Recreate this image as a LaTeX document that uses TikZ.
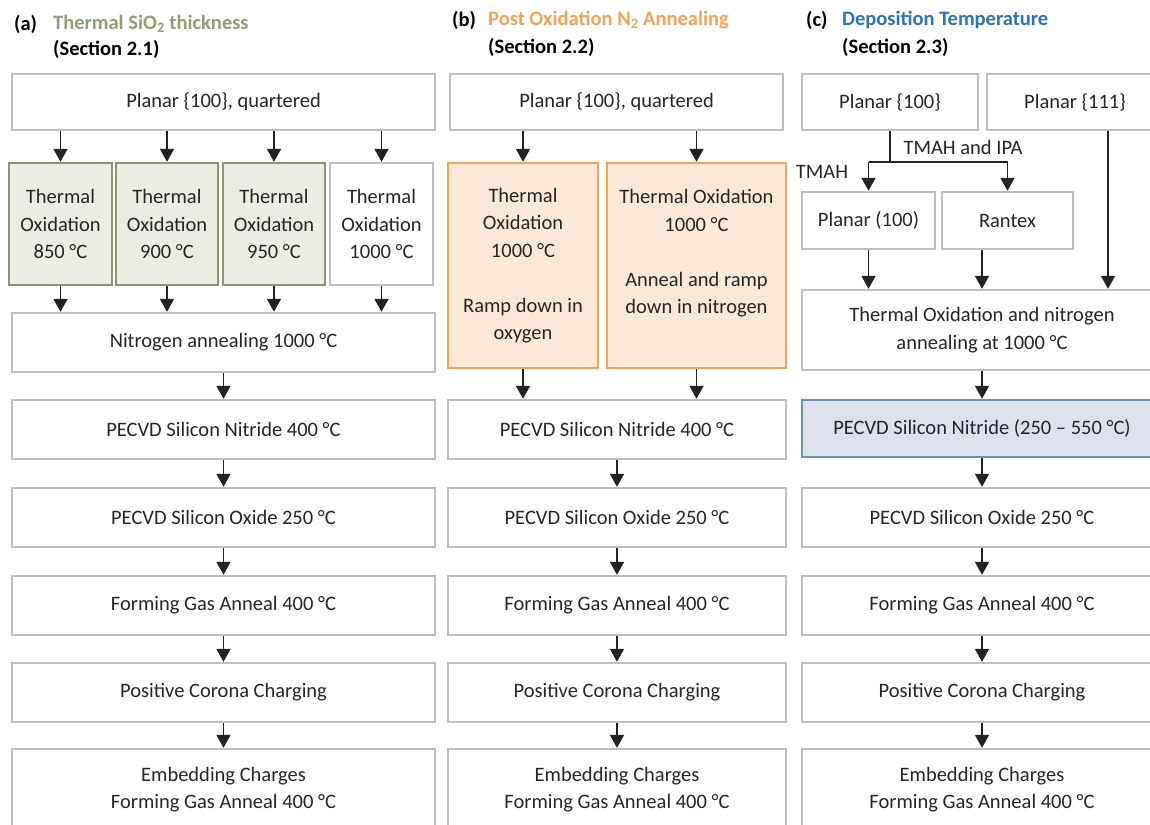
\documentclass[tikz,border=0pt]{standalone}
\usepackage{fontspec}
\setmainfont{Carlito}
\usetikzlibrary{arrows.meta}
\definecolor{boxgray}{HTML}{BFBFBF}
\definecolor{gfill}{HTML}{EBECE3}
\definecolor{gdraw}{HTML}{8A9670}
\definecolor{gtitle}{HTML}{8F9E78}
\definecolor{ofill}{HTML}{FCE8D6}
\definecolor{odraw}{HTML}{F4A35A}
\definecolor{otitle}{HTML}{F4A35A}
\definecolor{btitle}{HTML}{2E74B5}
\definecolor{bfill}{HTML}{DCE1EC}
\definecolor{bdraw}{HTML}{6F8DB5}
\definecolor{arrcol}{HTML}{222222}
\tikzset{
  box/.style={draw=boxgray, line width=2.4pt, fill=white, align=center, inner sep=0pt,
    text=black!85, font=\fontsize{20.5}{27.5}\selectfont},
  gbox/.style={box, draw=gdraw, fill=gfill},
  obox/.style={box, draw=odraw, fill=ofill},
  bbox/.style={box, draw=bdraw, fill=bfill},
  arr/.style={draw=arrcol, line width=1.8pt, -{Triangle[width=14pt,length=13pt]}},
  ln/.style={draw=arrcol, line width=1.8pt},
  hdr/.style={font=\fontsize{20.5}{24}\selectfont\bfseries, anchor=west, inner sep=0pt},
  lbl/.style={font=\fontsize{20.5}{24}\selectfont, text=black!85, inner sep=0pt}
}
\begin{document}
\begin{tikzpicture}[x=1pt,y=-1pt]
\useasboundingbox (0,0) rectangle (1150,824);
\clip (0,0) rectangle (1150,824);
% headers
\node[hdr] (ha) at (14,24) {(a)};
\node[hdr, text=gtitle] (hat) at (53,24) {Thermal SiO\textsubscript{2} thickness};
\node[hdr] (has) at (53,49) {(Section 2.1)};
\node[hdr] (hb) at (452,20) {(b)};
\node[hdr, text=otitle] (hbt) at (488,20) {Post Oxidation N\textsubscript{2} Annealing};
\node[hdr] (hbs) at (488,47) {(Section 2.2)};
\node[hdr] (hc) at (806,20) {(c)};
\node[hdr, text=btitle] (hct) at (842,20) {Deposition Temperature};
\node[hdr] (hcs) at (842,47) {(Section 2.3)};
% column a
\node[box, minimum width=423, minimum height=56] (pa) at (223.5,102) {Planar \{100\}, quartered};
\node[gbox, minimum width=103, minimum height=122] (ta1) at (60.5,224) {Thermal\\Oxidation\\850 °C};
\node[gbox, minimum width=102, minimum height=122] (ta2) at (167,224) {Thermal\\Oxidation\\900 °C};
\node[gbox, minimum width=102, minimum height=122] (ta3) at (274,224) {Thermal\\Oxidation\\950 °C};
\node[box, minimum width=103, minimum height=122] (ta4) at (381.5,224) {Thermal\\Oxidation\\1000 °C};
\node[box, minimum width=423, minimum height=59] (na) at (223.5,342.5) {Nitrogen annealing 1000 °C};
\node[box, minimum width=423, minimum height=59] (sa) at (223.5,429.5) {PECVD Silicon Nitride 400 °C};
\node[box, minimum width=423, minimum height=59] (oa) at (223.5,517.5) {PECVD Silicon Oxide 250 °C};
\node[box, minimum width=423, minimum height=59] (fa) at (223.5,605.5) {Forming Gas Anneal 400 °C};
\node[box, minimum width=423, minimum height=59] (ca) at (223.5,692.5) {Positive Corona Charging};
\node[box, minimum width=423, minimum height=81] (ea) at (223.5,789.5) {Embedding Charges\\Forming Gas Anneal 400 °C};
\foreach \t in {ta1,ta2,ta3,ta4}{
  \draw[arr] (pa.south -| \t) -- (\t.north);
  \draw[arr] (\t.south) -- (na.north -| \t);
}
\draw[arr] (na) -- (sa);
\draw[arr] (sa) -- (oa);
\draw[arr] (oa) -- (fa);
\draw[arr] (fa) -- (ca);
\draw[arr] (ca) -- (ea);
% column b
\node[box, minimum width=333, minimum height=56] (pb) at (616.5,102) {Planar \{100\}, quartered};
\node[obox, minimum width=150, minimum height=205] (tb1) at (523,265.5) {Thermal\\Oxidation\\1000 °C\\~\\Ramp down in\\oxygen};
\node[obox, minimum width=179, minimum height=205] (tb2) at (696.5,265.5) {Thermal Oxidation\\1000 °C\\~\\Anneal and ramp\\down in nitrogen\\~};
\node[box, minimum width=338, minimum height=59] (sb) at (617,429.5) {PECVD Silicon Nitride 400 °C};
\node[box, minimum width=338, minimum height=59] (ob) at (617,517.5) {PECVD Silicon Oxide 250 °C};
\node[box, minimum width=338, minimum height=59] (fb) at (617,605.5) {Forming Gas Anneal 400 °C};
\node[box, minimum width=338, minimum height=59] (cb) at (617,692.5) {Positive Corona Charging};
\node[box, minimum width=338, minimum height=81] (eb) at (617,789.5) {Embedding Charges\\Forming Gas Anneal 400 °C};
\foreach \t in {tb1,tb2}{
  \draw[arr] (pb.south -| \t) -- (\t.north);
  \draw[arr] (\t.south) -- (sb.north -| \t);
}
\draw[arr] (sb) -- (ob);
\draw[arr] (ob) -- (fb);
\draw[arr] (fb) -- (cb);
\draw[arr] (cb) -- (eb);
% column c
\node[box, minimum width=176, minimum height=56] (pc1) at (890,102) {Planar \{100\}};
\node[box, minimum width=176, minimum height=56] (pc2) at (1075,102) {Planar \{111\}};
\node[box, minimum width=133, minimum height=57] (pc3) at (868.5,220.5) {Planar (100)};
\node[box, minimum width=131, minimum height=57] (rc) at (1007.5,220.5) {Rantex};
\node[box, minimum width=360, minimum height=80] (tc) at (982,330) {Thermal Oxidation and nitrogen\\annealing at 1000 °C};
\node[bbox, minimum width=360, minimum height=57] (sc) at (982,428.5) {PECVD Silicon Nitride (250 – 550 °C)};
\node[box, minimum width=360, minimum height=59] (oc) at (982,517.5) {PECVD Silicon Oxide 250 °C};
\node[box, minimum width=360, minimum height=59] (fc) at (982,605.5) {Forming Gas Anneal 400 °C};
\node[box, minimum width=360, minimum height=59] (cc) at (982,692.5) {Positive Corona Charging};
\node[box, minimum width=360, minimum height=81] (ec) at (982,789.5) {Embedding Charges\\Forming Gas Anneal 400 °C};
\coordinate (split) at (890,162);
\coordinate (spl) at (868.5,162);
\coordinate (spr) at (1007.5,162);
\draw[ln] (pc1.south) -- (split);
\draw[ln] (spl) -- (spr);
\draw[arr] (spl) -- (pc3.north);
\draw[arr] (spr) -- (rc.north);
\node[lbl] (l1) at (963,147) {TMAH and IPA};
\node[lbl] (l2) at (822,172) {TMAH};
\draw[arr] (pc3.south) -- (tc.north -| pc3);
\coordinate (rx) at (982,249);
\draw[arr] (rc.south -| rx) -- (tc.north -| rx);
\coordinate (px) at (1108,130);
\draw[arr] (pc2.south -| px) -- (tc.north -| px);
\draw[arr] (tc) -- (sc);
\draw[arr] (sc) -- (oc);
\draw[arr] (oc) -- (fc);
\draw[arr] (fc) -- (cc);
\draw[arr] (cc) -- (ec);
\end{tikzpicture}
\end{document}
